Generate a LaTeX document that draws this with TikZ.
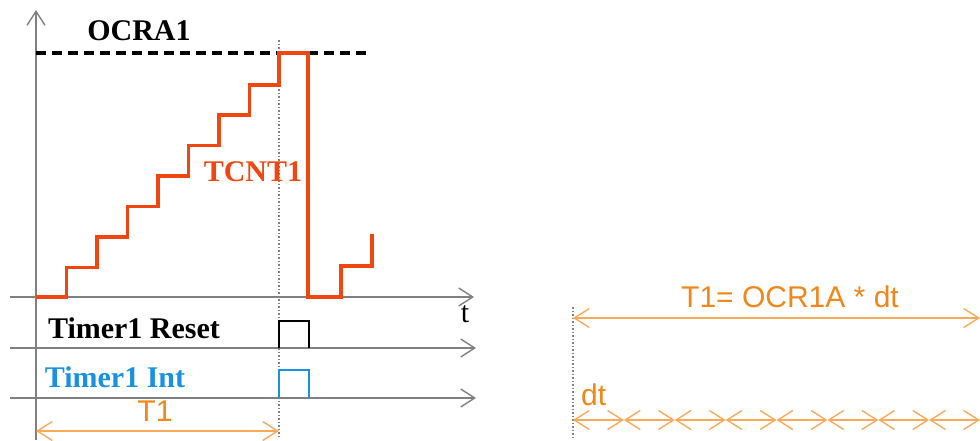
\documentclass[tikz,border=0pt]{standalone}
\usepackage{fontspec}
\setmainfont{Liberation Serif}
\setsansfont{Liberation Sans}
\usetikzlibrary{arrows.meta}
\definecolor{axisgray}{RGB}{128,128,128}
\definecolor{tcnt}{RGB}{240,70,15}
\definecolor{tone}{RGB}{242,135,25}
\definecolor{toneline}{RGB}{248,170,90}
\definecolor{intblue}{RGB}{25,145,225}
\tikzset{
  axisline/.style={draw=axisgray,line width=1.5pt,-{Straight Barb[length=14pt,width=18pt,line width=1.4pt]}},
  stair/.style={draw=tcnt,line width=3.2pt,line join=miter},
  pulse/.style={line width=2.8pt},
  guide/.style={draw=axisgray,line width=1.5pt,dotted},
  dimline/.style={draw=toneline,line width=1.6pt,{Straight Barb[length=15pt,width=19pt,line width=1.4pt]}-{Straight Barb[length=15pt,width=19pt,line width=1.4pt]}},
  serlabel/.style={font=\fontsize{30}{34}\selectfont\bfseries,inner sep=0pt},
  sanslabel/.style={font=\sffamily\fontsize{30}{34}\selectfont,text=tone,inner sep=0pt},
}
\begin{document}
\begin{tikzpicture}[x=1pt,y=-1pt]
\useasboundingbox (0,0) rectangle (980,440);
% axes
\coordinate (yb) at (36,440);
\coordinate (yt) at (36,10);
\draw[axisline] (yb) -- (yt);
\coordinate (x0a) at (10,297); \coordinate (x0b) at (474,297);
\draw[axisline] (x0a) -- (x0b);
\coordinate (x1a) at (10,348); \coordinate (x1b) at (476,348);
\draw[axisline] (x1a) -- (x1b);
\coordinate (x2a) at (10,398); \coordinate (x2b) at (476,398);
\draw[axisline] (x2a) -- (x2b);
% guide
\coordinate (ga) at (279,40); \coordinate (gb) at (279,436);
\draw[guide] (ga) -- (gb);
% OCRA1 dashed level
\coordinate (da) at (36,53); \coordinate (db) at (372,53);
\draw[line width=3.5pt,dash pattern=on 10pt off 6pt] (da) -- (db);
% staircase
\draw[stair] (36,297) -- (66.5,297) |- (97,267.5) |- (127.5,237) |- (158,206.5) |- (188.5,176) |- (219,145.5) |- (249.5,115) |- (279,85) |- (308,53) -- (308,297) -- (341,297) |- (372,266) -- (372,234);
% pulses
\draw[pulse,black] (279,348) |- (309,321) -- (309,348);
\draw[pulse,intblue] (279,398) |- (309,370) -- (309,398);
% labels
\node[serlabel] (ocra) at (139,31) {OCRA1};
\node[serlabel,text=tcnt] (tcnt1) at (253,172) {TCNT1};
\node[serlabel] (reset) at (134,328) {Timer1 Reset};
\node[serlabel,text=intblue] (int) at (115,377) {Timer1 Int};
\node[font=\fontsize{30}{34}\selectfont,inner sep=0pt] (tlab) at (465,314) {t};
% T1 dimension
\coordinate (t1a) at (36,431); \coordinate (t1b) at (279,431);
\draw[dimline] (t1a) -- (t1b);
\node[sanslabel] (t1) at (155,411) {T1};
% right part
\coordinate (ra) at (573,307); \coordinate (rb) at (573,437);
\draw[guide] (ra) -- (rb);
\coordinate (ta) at (573,318); \coordinate (tb) at (980,318);
\draw[dimline] (ta) -- (tb);
\node[sanslabel] (formula) at (790,297) {T1= OCR1A * dt};
\foreach \i in {0,...,7} {
  \coordinate (s\i) at ({573+\i*50.875},420);
  \coordinate (e\i) at ({573+(\i+1)*50.875},420);
  \draw[dimline] (s\i) -- (e\i);
}
\node[sanslabel,anchor=west] (dt) at (581,395) {dt};
\end{tikzpicture}
\end{document}
